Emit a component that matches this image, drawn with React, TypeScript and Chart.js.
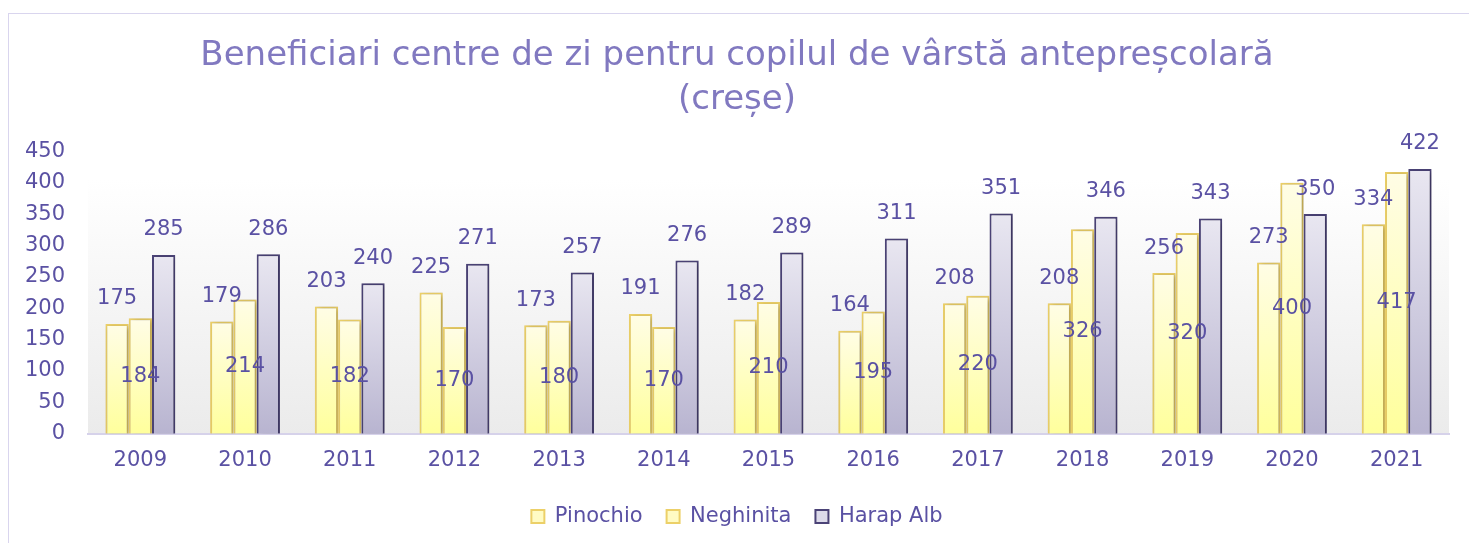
import { useEffect, useRef } from 'react';
import { Chart, registerables } from 'chart.js';

Chart.register(...registerables);

const categories = ['2009', '2010', '2011', '2012', '2013', '2014', '2015', '2016', '2017', '2018', '2019', '2020', '2021'];
const pinochio = [175, 179, 203, 225, 173, 191, 182, 164, 208, 208, 256, 273, 334];
const neghinita = [184, 214, 182, 170, 180, 170, 210, 195, 220, 326, 320, 400, 417];
const harapAlb = [285, 286, 240, 271, 257, 276, 289, 311, 351, 346, 343, 350, 422];
const seriesNames = ['Pinochio', 'Neghinita', 'Harap Alb'];
const titleLines = ['Beneficiari centre de zi pentru copilul de vârstă antepreșcolară', '(creșe)'];

const FONT = "'DejaVu Sans', sans-serif";
const LABEL_COLOR = '#5a51a3';
const TITLE_COLOR = '#8179c0';

function barGradient(top: string, bottom: string) {
  return (ctx: any) => {
    const chart = ctx.chart;
    const ys = chart.scales && chart.scales.y;
    if (!chart.chartArea || !ys || ctx.type !== 'data') return bottom;
    const v = ctx.raw as number;
    const yTop = ys.getPixelForValue(v);
    const y0 = ys.getPixelForValue(0);
    if (!isFinite(yTop) || !isFinite(y0) || yTop === y0) return bottom;
    const g = chart.ctx.createLinearGradient(0, yTop, 0, y0);
    g.addColorStop(0, top);
    g.addColorStop(1, bottom);
    return g;
  };
}

const legendFill = ['#fffbc4', '#fffbc4', '#dddbea'];
const legendStroke = ['#ecd068', '#ecd068', '#4b4377'];

const plotBgPlugin = {
  id: 'plotBg',
  beforeDraw(chart: any) {
    const { ctx, chartArea } = chart;
    if (!chartArea) return;
    const g = ctx.createLinearGradient(0, chartArea.top, 0, chartArea.bottom);
    g.addColorStop(0, '#ffffff');
    g.addColorStop(0.1, '#ffffff');
    g.addColorStop(1, '#ebebeb');
    ctx.save();
    ctx.fillStyle = g;
    ctx.fillRect(chartArea.left, chartArea.top, chartArea.right - chartArea.left, chartArea.bottom - chartArea.top);
    ctx.restore();
  },
};

const shadowPlugin = {
  id: 'barShadow',
  beforeDatasetDraw(chart: any) {
    const ctx = chart.ctx;
    ctx.save();
    ctx.shadowColor = 'rgba(0,0,0,0.28)';
    ctx.shadowBlur = 5;
    ctx.shadowOffsetX = 2;
    ctx.shadowOffsetY = 1;
  },
  afterDatasetDraw(chart: any) {
    chart.ctx.restore();
  },
};

const valueLabelPlugin = {
  id: 'valueLabels',
  afterDatasetsDraw(chart: any) {
    const ctx = chart.ctx;
    ctx.save();
    ctx.font = `21px ${FONT}`;
    ctx.fillStyle = LABEL_COLOR;
    ctx.textAlign = 'center';
    ctx.textBaseline = 'middle';
    chart.data.datasets.forEach((ds: any, di: number) => {
      const meta = chart.getDatasetMeta(di);
      meta.data.forEach((el: any, i: number) => {
        const v = ds.data[i];
        const y = di === 1 ? (el.y + el.base) / 2 : el.y - 25;
        ctx.fillText(String(v), el.x, y);
      });
    });
    ctx.restore();
  },
};

export default function App() {
  const ref = useRef<HTMLCanvasElement | null>(null);

  useEffect(() => {
    if (!ref.current) return;
    const chart = new Chart(ref.current, {
      type: 'bar',
      data: {
        labels: categories,
        datasets: [
          {
            label: seriesNames[0],
            data: pinochio,
            backgroundColor: barGradient('#fffde6', '#ffff9c'),
            borderColor: '#ecd068',
            borderWidth: 2,
          },
          {
            label: seriesNames[1],
            data: neghinita,
            backgroundColor: barGradient('#fffde6', '#ffff9c'),
            borderColor: '#ecd068',
            borderWidth: 2,
          },
          {
            label: seriesNames[2],
            data: harapAlb,
            backgroundColor: barGradient('#e9e7f1', '#b8b4d0'),
            borderColor: '#4b4377',
            borderWidth: 2,
          },
        ],
      },
      options: {
        responsive: false,
        animation: false,
        devicePixelRatio: 1,
        datasets: {
          bar: { categoryPercentage: 0.667, barPercentage: 1 },
        },
        layout: { padding: { left: 25, right: 20, top: 0, bottom: 6 } },
        plugins: {
          tooltip: { enabled: false },
          title: {
            display: true,
            text: titleLines,
            color: TITLE_COLOR,
            font: { family: FONT, size: 34, weight: 'normal', lineHeight: 1.27 },
            padding: { top: 35, bottom: 30 },
          },
          legend: {
            display: true,
            position: 'bottom',
            labels: {
              color: LABEL_COLOR,
              font: { family: FONT, size: 21 },
              boxWidth: 13,
              boxHeight: 13,
              padding: 24,
              generateLabels: (chart: any) =>
                chart.data.datasets.map((ds: any, i: number) => ({
                  text: ds.label,
                  fillStyle: legendFill[i],
                  strokeStyle: legendStroke[i],
                  lineWidth: 2,
                  hidden: false,
                  datasetIndex: i,
                  fontColor: LABEL_COLOR,
                })),
            },
          },
        },
        scales: {
          x: {
            grid: { display: false, drawTicks: false },
            border: { display: true, color: '#d6d2ea', width: 2 },
            ticks: { color: LABEL_COLOR, font: { family: FONT, size: 21 }, padding: 14 },
            afterFit: (scale: any) => {
              scale.height = scale.height - 5;
            },
          },
          y: {
            min: 0,
            max: 450,
            grid: { display: false, drawTicks: false },
            border: { display: false },
            ticks: { stepSize: 50, color: LABEL_COLOR, font: { family: FONT, size: 21 }, padding: 23 },
            afterFit: (scale: any) => {
              scale.width = 63;
            },
          },
        },
      },
      plugins: [plotBgPlugin, shadowPlugin, valueLabelPlugin],
    } as any);
    return () => chart.destroy();
  }, []);

  return (
    <div>
      <div
        style={{
          position: 'fixed',
          left: 8,
          top: 13,
          right: -10,
          bottom: -10,
          border: '1px solid #d9d5ee',
          background: '#ffffff',
        }}
      />
      <canvas
        ref={ref}
        width={1469}
        height={543}
        style={{ position: 'fixed', left: 0, top: 0, width: 1469, height: 543 }}
      />
    </div>
  );
}
